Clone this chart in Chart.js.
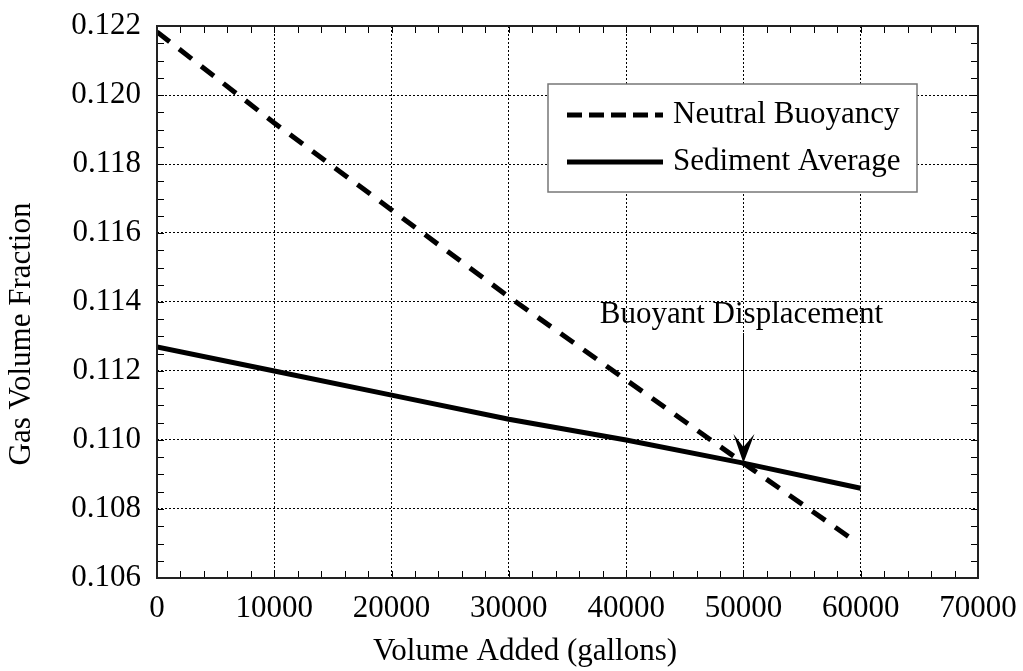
<!DOCTYPE html>
<html>
<head>
<meta charset="utf-8">
<script src="https://cdn.jsdelivr.net/npm/chart.js@4/dist/chart.umd.min.js"></script>
<style>
  html, body { margin: 0; padding: 0; background: #fff; }
  #wrap { width: 1023px; height: 671px; }
</style>
</head>
<body>
<div id="wrap"><canvas id="gvf" width="1023" height="671"></canvas></div>
<script>
// du lieu doc tu hinh
const neutralX = [0, 10000, 20000, 30000, 40000, 50000, 59000];
const neutralY = [0.12183, 0.11919, 0.11667, 0.11415, 0.11174, 0.10933, 0.10719];
const sedimentX = [0, 10000, 20000, 30000, 40000, 50000, 60000];
const sedimentY = [0.1127, 0.1120, 0.11130, 0.1106, 0.1100, 0.10933, 0.1086];
const seriesNames = ['Neutral Buoyancy', 'Sediment Average'];
const xTicks = [0, 10000, 20000, 30000, 40000, 50000, 60000, 70000];
const yTicks = [0.106, 0.108, 0.110, 0.112, 0.114, 0.116, 0.118, 0.120, 0.122];
const arrowPoint = { x: 50000, y: 0.10933 };
const arrowLabel = 'Buoyant Displacement';
const xTitle = 'Volume Added (gallons)';
const yTitle = 'Gas Volume Fraction';

const FONT = '"Liberation Serif", "Times New Roman", serif';
const FS = 31;

function toPoints(xs, ys) {
    return xs.map((x, i) => ({ x: x, y: ys[i] }));
}

// ve khung, vach phu, chu thich, mui ten
const extras = {
    id: 'extras',
    afterDatasetsDraw(chart) {
        const ctx = chart.ctx;
        const a = chart.chartArea;
        const xs = chart.scales.x, ys = chart.scales.y;
        ctx.save();

        // vach chia nho
        ctx.strokeStyle = '#000';
        ctx.lineWidth = 1;
        ctx.setLineDash([]);
        ctx.beginPath();
        for (let v = 0; v <= 70000; v += 2000) {
            const px = Math.round(xs.getPixelForValue(v)) + 0.5;
            ctx.moveTo(px, a.bottom); ctx.lineTo(px, a.bottom - 7);
            ctx.moveTo(px, a.top); ctx.lineTo(px, a.top + 7);
        }
        for (let k = 0; k <= 32; k++) {
            const v = 0.106 + k * 0.0005;
            const py = Math.round(ys.getPixelForValue(v)) + 0.5;
            ctx.moveTo(a.left, py); ctx.lineTo(a.left + 7, py);
            ctx.moveTo(a.right, py); ctx.lineTo(a.right - 7, py);
        }
        ctx.stroke();

        // khung
        ctx.lineWidth = 2;
        ctx.strokeStyle = '#222';
        ctx.strokeRect(a.left, a.top, a.right - a.left, a.bottom - a.top);

        // hop chu giai
        const bx = 548, by = 84, bw = 369, bh = 108;
        ctx.fillStyle = '#fff';
        ctx.fillRect(bx, by, bw, bh);
        ctx.strokeStyle = '#777';
        ctx.lineWidth = 1.5;
        ctx.strokeRect(bx, by, bw, bh);
        const rows = [115, 162];
        ctx.strokeStyle = '#000';
        ctx.lineWidth = 5;
        ctx.setLineDash([15, 7]);
        ctx.beginPath(); ctx.moveTo(567, rows[0]); ctx.lineTo(663, rows[0]); ctx.stroke();
        ctx.setLineDash([]);
        ctx.beginPath(); ctx.moveTo(567, rows[1]); ctx.lineTo(663, rows[1]); ctx.stroke();
        ctx.fillStyle = '#000';
        ctx.font = FS + 'px ' + FONT;
        ctx.textAlign = 'left';
        ctx.textBaseline = 'middle';
        ctx.fillText(seriesNames[0], 673, rows[0]);
        ctx.fillText(seriesNames[1], 673, rows[1]);

        // mui ten
        const ax = xs.getPixelForValue(arrowPoint.x);
        const ay = ys.getPixelForValue(arrowPoint.y);
        ctx.textAlign = 'center';
        ctx.textBaseline = 'alphabetic';
        ctx.fillText(arrowLabel, ax - 2, 323);
        ctx.lineWidth = 1;
        ctx.beginPath();
        ctx.moveTo(Math.round(ax) + 0.5, 333);
        ctx.lineTo(Math.round(ax) + 0.5, ay - 8);
        ctx.stroke();
        ctx.beginPath();
        ctx.moveTo(ax, ay);
        ctx.lineTo(ax - 10, ay - 29);
        ctx.lineTo(ax, ay - 16);
        ctx.lineTo(ax + 11, ay - 29);
        ctx.closePath();
        ctx.fill();

        // tieu de truc
        ctx.textAlign = 'center';
        ctx.textBaseline = 'middle';
        ctx.fillText(xTitle, 525, 652);
        ctx.translate(22, 334);
        ctx.rotate(-Math.PI / 2);
        ctx.fillText(yTitle, 0, 0);
        ctx.restore();
    }
};

const chart = new Chart(document.getElementById('gvf').getContext('2d'), {
    type: 'line',
    data: {
        datasets: [
            {
                label: seriesNames[0],
                data: toPoints(neutralX, neutralY),
                borderColor: '#000',
                borderWidth: 5,
                borderDash: [16, 12],
                pointRadius: 0,
                tension: 0,
                fill: false
            },
            {
                label: seriesNames[1],
                data: toPoints(sedimentX, sedimentY),
                borderColor: '#000',
                borderWidth: 5,
                pointRadius: 0,
                tension: 0,
                fill: false
            }
        ]
    },
    options: {
        responsive: false,
        animation: false,
        layout: { padding: { left: 0, top: 26, right: 45, bottom: 0 } },
        plugins: {
            legend: { display: false },
            tooltip: { enabled: false }
        },
        scales: {
            x: {
                type: 'linear',
                min: 0,
                max: 70000,
                afterBuildTicks: s => { s.ticks = xTicks.map(v => ({ value: v })); },
                afterFit: s => {
                    s.height = 93;
                    s.paddingLeft = 0; s.paddingRight = 0;
                },
                grid: { color: '#000', lineWidth: 1, drawTicks: false },
                border: { display: false, dash: [2, 2] },
                ticks: {
                    color: '#000',
                    font: { family: FONT, size: FS },
                    padding: 12,
                    maxRotation: 0,
                    callback: v => String(v)
                }
            },
            y: {
                min: 0.106,
                max: 0.122,
                afterBuildTicks: s => { s.ticks = yTicks.map(v => ({ value: v })); },
                afterFit: s => {
                    s.width = 157;
                    s.paddingTop = 0; s.paddingBottom = 0;
                },
                grid: { color: '#000', lineWidth: 1, drawTicks: false },
                border: { display: false, dash: [2, 2] },
                ticks: {
                    color: '#000',
                    font: { family: FONT, size: FS },
                    padding: 16,
                    callback: v => v.toFixed(3)
                }
            }
        }
    },
    plugins: [extras]
});
</script>
</body>
</html>
